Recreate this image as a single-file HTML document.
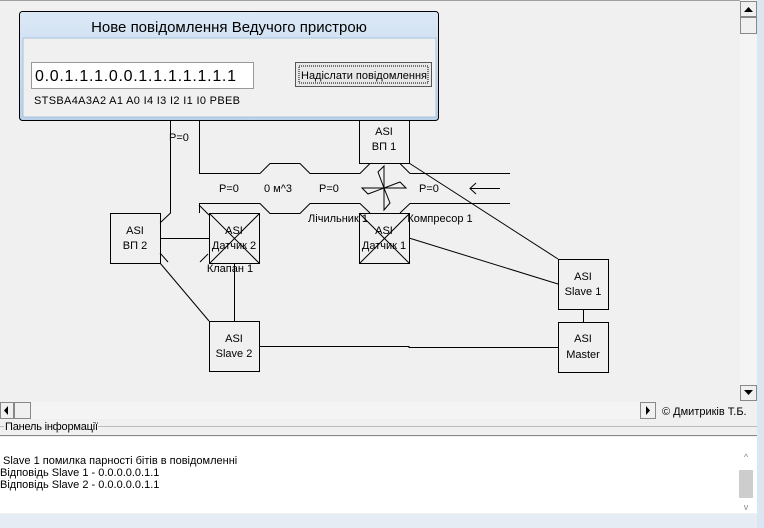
<!DOCTYPE html>
<html><head><meta charset="utf-8"><style>
body{margin:0;width:764px;height:528px;overflow:hidden;background:#f0f0f0;font-family:"Liberation Sans",sans-serif;position:relative}
.a{position:absolute}
</style></head><body>
<svg class="a" style="left:0;top:0" width="764" height="528" font-family="Liberation Sans, sans-serif" font-size="11">
<rect x="0" y="0" width="764" height="528" fill="#f0f0f0"/>
<line x1="0" y1="0.5" x2="740" y2="0.5" stroke="#a0a0a0"/>
<g stroke="#000" fill="none" stroke-width="1">
<polyline points="199.5,120 199.5,173.5 260,173.5 270,163.5 300,163.5 310,173.5 360,173.5 370,163.5"/>
<polyline points="400,163.5 410,173.5 510,173.5"/>
<polyline points="199.5,213 199.5,203.5 260,203.5 270,213.5 300,213.5 310,203.5 360,203.5 370,213"/>
<polyline points="400,213 410,203.5 510,203.5"/>
<polyline points="199,205 209,215"/>
<polyline points="384,188 378,172 384,166 384,210 390,203 384,188 400,182 406,188 362,188 368,194 384,188"/>
<line x1="470" y1="188.5" x2="500" y2="188.5"/><polyline points="476,183 470,188.5 476,194"/>
<rect x="359.5" y="115.5" width="50" height="48" fill="#f0f0f0"/>
<rect x="110.5" y="213.5" width="50" height="50"/>
<rect x="209.5" y="213.5" width="50" height="50"/>
<line x1="209.5" y1="213.5" x2="259.5" y2="263.5"/><line x1="259.5" y1="213.5" x2="209.5" y2="263.5"/>
<rect x="359.5" y="213.5" width="50" height="50"/>
<line x1="359.5" y1="213.5" x2="409.5" y2="263.5"/><line x1="409.5" y1="213.5" x2="359.5" y2="263.5"/>
<rect x="558.5" y="259.5" width="50" height="50"/>
<rect x="558.5" y="322.5" width="50" height="50"/>
<rect x="209.5" y="321.5" width="50" height="50"/>
<polyline points="170.5,120 170.5,213 160,223"/>
<line x1="409" y1="163" x2="558" y2="259"/>
<line x1="409" y1="238" x2="558" y2="284"/>
<line x1="160" y1="238.5" x2="209" y2="238.5"/>
<line x1="234.5" y1="263" x2="234.5" y2="321"/>
<line x1="160" y1="263" x2="209" y2="321"/>
<line x1="583.5" y1="309" x2="583.5" y2="322"/>
<polyline points="259,346.5 409,346.5 409,347.5 558,347.5"/>
<line x1="160" y1="253" x2="168" y2="262"/>
<line x1="200" y1="262" x2="208" y2="254"/>
</g>
<g fill="#000" text-anchor="middle">
<text x="384" y="135">ASI</text><text x="384" y="150">ВП 1</text>
<text x="135" y="234">ASI</text><text x="135" y="249">ВП 2</text>
<text x="234" y="234">ASI</text><text x="234" y="249">Датчик 2</text>
<text x="384" y="234">ASI</text><text x="384" y="249">Датчик 1</text>
<text x="583" y="280">ASI</text><text x="583" y="295">Slave 1</text>
<text x="583" y="342">ASI</text><text x="583" y="358">Master</text>
<text x="234" y="342">ASI</text><text x="234" y="357">Slave 2</text>
<text x="179" y="141">P=0</text>
<text x="229" y="192">P=0</text><text x="278" y="192">0 м^3</text><text x="329" y="192">P=0</text><text x="429" y="192">P=0</text>
<text x="338" y="222">Лічильник 1</text><text x="440" y="222">Компресор 1</text><text x="230" y="272">Клапан 1</text>
</g>
<rect x="740" y="0" width="17" height="400" fill="#f4f4f4"/>
<rect x="740.5" y="1.5" width="16" height="15" fill="#f0f0f0" stroke="#888"/>
<polygon points="744,12 748.5,7 753,12" fill="#000"/>
<rect x="740.5" y="17.5" width="16" height="16" fill="#f0f0f0" stroke="#888"/>
<rect x="740.5" y="385.5" width="16" height="15" fill="#f0f0f0" stroke="#888"/>
<polygon points="744,390 748.5,395 753,390" fill="#000"/>
<rect x="757" y="0" width="7" height="528" fill="#dce6f2"/>
<rect x="0" y="402" width="656" height="17" fill="#f4f4f4"/>
<rect x="0.5" y="402.5" width="13" height="16" fill="#f0f0f0" stroke="#888"/>
<polygon points="8,406 4,410.5 8,415" fill="#000"/>
<rect x="14.5" y="402.5" width="16" height="16" fill="#f0f0f0" stroke="#888"/>
<rect x="640.5" y="402.5" width="15" height="16" fill="#f0f0f0" stroke="#888"/>
<polygon points="646,406 650,410.5 646,415" fill="#000"/>
<text x="662" y="415" fill="#000">© Дмитриків Т.Б.</text>
<line x1="0" y1="426.5" x2="757" y2="426.5" stroke="#bbb"/>
<rect x="4" y="420" width="94" height="12" fill="#f0f0f0"/>
<text x="5" y="430" fill="#000" textLength="93">Панель інформації</text>
<line x1="0" y1="435.5" x2="757" y2="435.5" stroke="#888"/>
<rect x="0" y="437" width="757" height="76" fill="#fff"/>
<rect x="739" y="470" width="14" height="28" fill="#cdcdcd"/>
<text x="746" y="460" fill="#888" text-anchor="middle" font-size="9">^</text>
<text x="746" y="510" fill="#888" text-anchor="middle" font-size="9">v</text>
<g fill="#000" font-size="11"><text x="3" y="464">Slave 1 помилка парності бітів в повідомленні</text>
<text x="0" y="476">Відповідь  Slave 1 - 0.0.0.0.0.1.1</text>
<text x="0" y="488">Відповідь  Slave 2 - 0.0.0.0.0.1.1</text></g>
<rect x="0" y="514" width="757" height="14" fill="#e6ecf4"/>
<defs><linearGradient id="g" x1="0" y1="0" x2="0" y2="1"><stop offset="0" stop-color="#dbe8f6"/><stop offset="1" stop-color="#b9d1ea"/></linearGradient></defs>
<rect x="19.5" y="11.5" width="419" height="109" rx="3" fill="url(#g)" stroke="#000"/>
<rect x="23" y="38" width="413" height="79" fill="#f0f0f0" stroke="#a9c2dd"/>
<text x="229" y="32" fill="#000" text-anchor="middle" font-size="15">Нове повідомлення Ведучого пристрою</text>
<rect x="31.5" y="62.5" width="222" height="26" fill="#fff" stroke="#999"/>
<text x="35" y="81" fill="#000" font-size="16" textLength="201">0.0.1.1.1.0.0.1.1.1.1.1.1.1</text>
<text x="34" y="104" fill="#000" font-size="11" textLength="206">STSBA4A3A2 A1 A0 I4  I3  I2  I1  I0 PBEB</text>
<rect x="295.5" y="62.5" width="136" height="24" fill="#e8e8e8" stroke="#555"/>
<rect x="299" y="66" width="129" height="17" fill="none" stroke="#000" stroke-dasharray="1,1"/>
<text x="301" y="79" fill="#000" font-size="11" textLength="126">Надіслати повідомлення</text>
</svg>
</body></html>
